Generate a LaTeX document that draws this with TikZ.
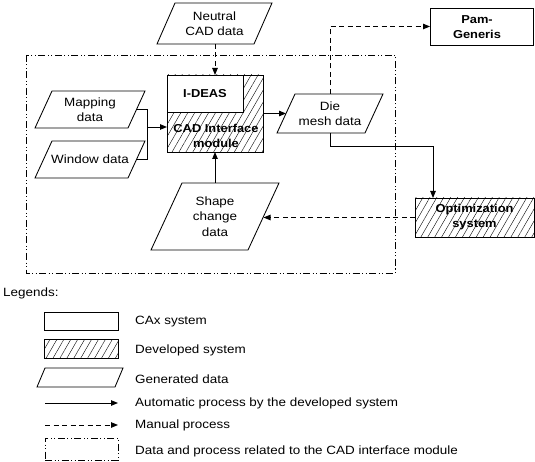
\documentclass[tikz,border=0pt]{standalone}
\usepackage{fontspec}
\setmainfont{Liberation Sans}[FakeStretch=1.12]
\usetikzlibrary{arrows.meta,patterns.meta}
\tikzset{
  every node/.style={font=\fontsize{12}{15.5}\selectfont},
  ln/.style={draw, line width=0.85pt},
  auto/.style={ln, -{Triangle[length=7pt,width=5.5pt]}},
  manual/.style={auto, dash pattern=on 5pt off 3.5pt},
  frameline/.style={draw, line width=0.85pt, dash pattern=on 7pt off 2.5pt on 1pt off 2.5pt on 1pt off 2.5pt},
  datab/.style={rectangle, align=center, inner sep=1pt, outer sep=0pt},
  caxbox/.style={rectangle, draw, line width=0.85pt, align=center, inner sep=1pt, outer sep=0pt},
  devbox/.style={caxbox, pattern={Lines[angle=60,distance=6pt,line width=0.4pt]}},
  bold/.style={font=\fontsize{11.5}{15}\selectfont\bfseries, align=center},
  legtext/.style={anchor=west, inner sep=0pt}
}
\newcommand\drawpara[2]{\draw[line width=0.85pt, line join=miter] ([xshift=#2]#1.north west) -- (#1.north east) -- ([xshift=-#2]#1.south east) -- (#1.south west) -- cycle;}
\begin{document}
\begin{tikzpicture}[x=1pt,y=-1pt]
\useasboundingbox (0,0) rectangle (535,462);
% frame of the CAD interface module
\path[frameline] (26,55) rectangle (395,273);
% nodes
\node[datab, minimum width=115, minimum height=41] (neutral) at (214.5,23.5) {Neutral\\CAD data};
\drawpara{neutral}{18pt}
\node[datab, minimum width=110, minimum height=37] (map) at (90,109.5) {Mapping\\data};
\drawpara{map}{17pt}
\node[datab, minimum width=110, minimum height=37] (win) at (90,159.5) {Window data};
\drawpara{win}{17pt}
\node[devbox, minimum width=96, minimum height=77] (cad) at (215,113.5) {};
\node[caxbox, fill=white, minimum width=76, minimum height=37, bold] (ideas) at (205,93.5) {I-DEAS};
\node[bold, inner sep=0pt] (cadlbl) at (216,135.5) {CAD Interface\\module};
\node[datab, minimum width=106, minimum height=39] (die) at (330,113.5) {Die\\mesh data};
\drawpara{die}{18pt}
\node[datab, minimum width=128, minimum height=67] (shape) at (215,216.5) {Shape\\change\\data};
\drawpara{shape}{31pt}
\node[caxbox, minimum width=103, minimum height=37] (pam) at (481.5,26.5) {};
\node[bold, inner sep=0pt] (pamlbl) at (477,27) {Pam-\\Generis};
\node[devbox, minimum width=119, minimum height=39, bold] (opt) at (474.5,217.5) {Optimization\\system};
% connectors
\draw[manual] (neutral.south -| cad.north) -- (cad.north);
\coordinate (j) at (147,127);
\draw[ln] ([xshift=-8.5pt]map.east) -| (j);
\draw[ln] ([xshift=-8.5pt]win.east) -| (j);
\draw[auto] (j) -- (j -| cad.west);
\draw[auto] (cad.east) -- ([xshift=9pt]die.west);
\draw[manual] (die.north) |- (pam.west);
\draw[auto] (die.south) -- ++(0,13) -| ([xshift=18pt]opt.north west);
\draw[manual] (opt.west) -- ([xshift=-15.5pt]opt.west -| shape.east);
\draw[auto] (shape.north) -- (cad.south);
% legend
\node[anchor=west, inner sep=0pt] (leg) at (3,293) {Legends:};
\node[caxbox, minimum width=74, minimum height=18] (lg1) at (81,321) {};
\node[devbox, minimum width=74, minimum height=19] (lg2) at (81,348.5) {};
\node[datab, minimum width=86, minimum height=19] (lg3) at (80,377.5) {};
\drawpara{lg3}{8pt}
\coordinate (la1) at (45,403); \coordinate (lb1) at (118,403);
\draw[auto] (la1) -- (lb1);
\coordinate (la2) at (45,425); \coordinate (lb2) at (118,425);
\draw[manual] (la2) -- (lb2);
\node[frameline, minimum width=73, minimum height=22, inner sep=0pt] (lg6) at (81.5,449) {};
\node[legtext] (t1) at (135,322) {CAx system};
\node[legtext] (t2) at (135,350) {Developed system};
\node[legtext] (t3) at (135,379) {Generated data};
\node[legtext] (t4) at (135,403) {Automatic process by the developed system};
\node[legtext] (t5) at (135,425) {Manual process};
\node[legtext] (t6) at (135,451) {Data and process related to the CAD interface module};
\end{tikzpicture}
\end{document}
